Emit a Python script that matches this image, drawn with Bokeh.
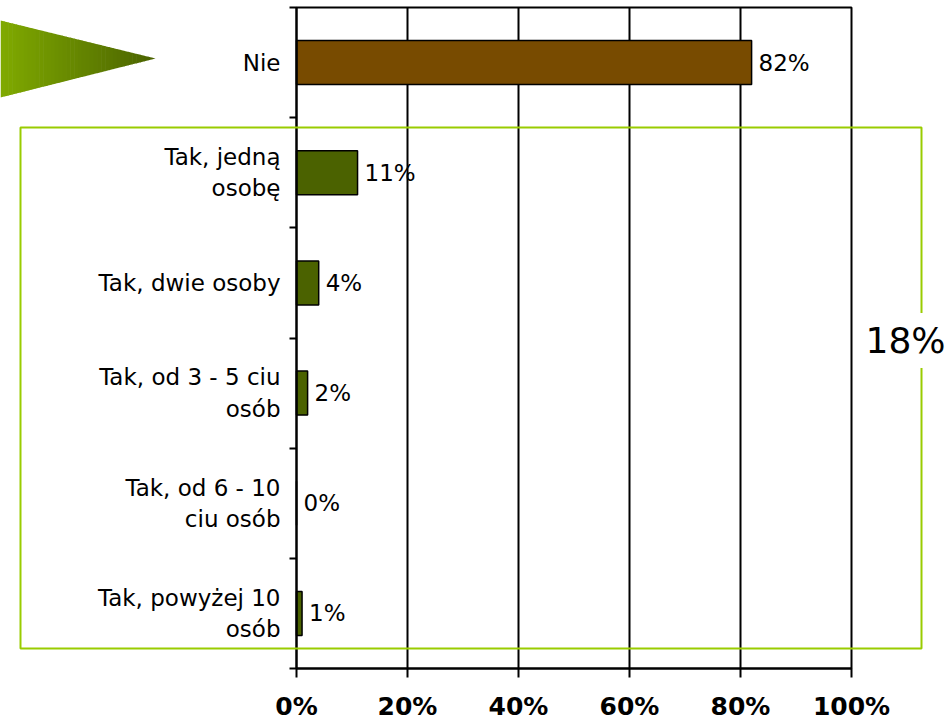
from bokeh.plotting import figure
from bokeh.models import (ColumnDataSource, Range1d, FixedTicker, NumeralTickFormatter,
                          LabelSet, Label, BoxAnnotation, PolyAnnotation, LinearAxis)
from bokeh.core.properties import value
from bokeh.embed import file_html
from bokeh.resources import INLINE

# ---- data ----
categories = ["Nie", "Tak, jedną\nosobę", "Tak, dwie osoby", "Tak, od 3 - 5 ciu\nosób",
              "Tak, od 6 - 10\nciu osób", "Tak, powyżej 10\nosób"]
values = [0.82, 0.11, 0.04, 0.02, 0.00, 0.01]
value_labels = ["82%", "11%", "4%", "2%", "0%", "1%"]
x_ticks = [0, 0.2, 0.4, 0.6, 0.8, 1.0]
group_total_label = "18%"

FONT = "DejaVu Sans"
bar_colors = ["#784B00"] + ["#4B6200"] * 5

n = len(categories)
pos = [i + 0.5 for i in range(n)]

# layout of the canvas (pixels): plot box from x=296..851, y=7..668
W, H = 951, 720
PX_L, PX_R, PX_T, PX_B = 296, 851, 7, 668
sx = (PX_R - PX_L) / 1.0
sy = (PX_B - PX_T) / n

p = figure(width=W, height=H, output_backend="svg", toolbar_location=None,
           x_range=Range1d(-PX_L / sx, (W - PX_L) / sx),
           y_range=Range1d(n + (H - PX_B) / sy, -PX_T / sy),
           min_border=0, x_axis_location=None, y_axis_location=None)
p.background_fill_color = "white"
p.border_fill_color = "white"
p.outline_line_color = None
p.grid.visible = False

# vertical grid lines
p.segment(x0=x_ticks[1:-1], x1=x_ticks[1:-1], y0=0, y1=n, line_color="black", line_width=2)

src = ColumnDataSource(dict(y=pos, v=values, lab=value_labels, c=bar_colors))
p.hbar(y="y", right="v", left=0, height=0.4, source=src, fill_color="c",
       line_color="black", line_width=1.5)

# plot box outline
p.add_layout(BoxAnnotation(left=0, right=1, top=0, bottom=n, fill_alpha=0,
                           line_color="black", line_width=2, line_alpha=1))

labels = LabelSet(x="v", y="y", text="lab", source=src, x_offset=7,
                  text_baseline="middle", text_font=value(FONT), text_font_size="23px",
                  text_color="black")
p.add_layout(labels)

# x axis
xaxis = LinearAxis(fixed_location=n, bounds=(0, 1))
xaxis.ticker = FixedTicker(ticks=x_ticks)
xaxis.formatter = NumeralTickFormatter(format="0%")
xaxis.major_label_text_font = FONT
xaxis.major_label_text_font_style = "bold"
xaxis.major_label_text_font_size = "25px"
xaxis.major_label_text_color = "black"
xaxis.major_label_standoff = 14
xaxis.major_tick_out = 9
xaxis.major_tick_in = 0
xaxis.minor_tick_line_color = None
xaxis.axis_line_width = 2
xaxis.major_tick_line_width = 2
p.add_layout(xaxis, "below")

# y axis
yaxis = LinearAxis(fixed_location=0, bounds=(0, n))
yaxis.ticker = FixedTicker(ticks=pos, minor_ticks=list(range(n + 1)))
yaxis.major_label_overrides = {pos[i]: categories[i] for i in range(n)}
yaxis.major_tick_out = 0
yaxis.major_tick_in = 0
yaxis.minor_tick_out = 7
yaxis.minor_tick_in = 0
yaxis.minor_tick_line_width = 2
yaxis.axis_line_width = 2
yaxis.major_label_standoff = 9
yaxis.major_label_text_font = FONT
yaxis.major_label_text_font_size = "23px"
yaxis.major_label_text_color = "black"
p.add_layout(yaxis, "left")

# decorative gradient triangle (canvas units)
steps = 40
x0, x1 = 0.0, 155.0
ytop, ybot, ytip = 20.0, 97.0, 58.0
c0 = (0x80, 0xAA, 0x00)
c1 = (0x4A, 0x62, 0x00)
def yt(x):
    return ytop + (ytip - ytop) * (x - x0) / (x1 - x0)
def yb(x):
    return ybot + (ytip - ybot) * (x - x0) / (x1 - x0)
for k in range(steps):
    xa = x0 + (x1 - x0) * k / steps
    xb = min(x0 + (x1 - x0) * (k + 1) / steps + 0.6, x1)
    t = (k + 0.5) / steps
    col = "#%02x%02x%02x" % tuple(int(round(c0[j] + (c1[j] - c0[j]) * t)) for j in range(3))
    p.add_layout(PolyAnnotation(xs=[xa, xb, xb, xa], ys=[yt(xa), yt(xb), yb(xb), yb(xa)],
                                xs_units="canvas", ys_units="canvas",
                                fill_color=col, fill_alpha=1, line_color=None))

# green bracket box
p.add_layout(BoxAnnotation(left=20, right=921, top=127, bottom=648,
                           left_units="canvas", right_units="canvas",
                           top_units="canvas", bottom_units="canvas",
                           fill_alpha=0, line_color="#99CC00", line_width=2, line_alpha=1))

p.add_layout(Label(x=905, y=340, x_units="canvas", y_units="canvas", text=group_total_label,
                   text_align="center", text_baseline="middle", text_font=FONT,
                   text_font_size="36px", text_color="black",
                   background_fill_color="white", background_fill_alpha=1, padding=7))

open("out.html", "w").write(file_html(p, INLINE))
